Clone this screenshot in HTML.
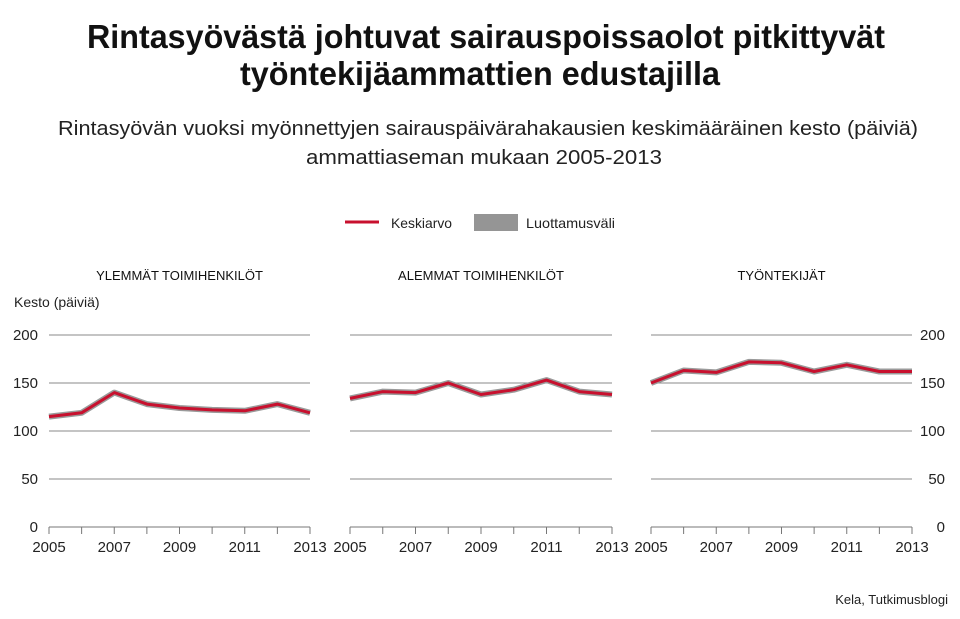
<!DOCTYPE html>
<html><head><meta charset="utf-8"><style>
html,body{margin:0;padding:0;background:#fff}
svg{display:block;font-family:"Liberation Sans",sans-serif}
</style></head><body>
<svg id="chart" width="960" height="619" viewBox="0 0 960 619" xmlns="http://www.w3.org/2000/svg">
<text x="486" y="48" text-anchor="middle" font-size="33" font-weight="bold" fill="#111" textLength="798" lengthAdjust="spacingAndGlyphs">Rintasyövästä johtuvat sairauspoissaolot pitkittyvät</text>
<text x="480" y="85" text-anchor="middle" font-size="33" font-weight="bold" fill="#111" textLength="480" lengthAdjust="spacingAndGlyphs">työntekijäammattien edustajilla</text>
<text x="488" y="135" text-anchor="middle" font-size="20" fill="#222" textLength="860" lengthAdjust="spacingAndGlyphs">Rintasyövän vuoksi myönnettyjen sairauspäivärahakausien keskimääräinen kesto (päiviä)</text>
<text x="484" y="164" text-anchor="middle" font-size="20" fill="#222" textLength="356" lengthAdjust="spacingAndGlyphs">ammattiaseman mukaan 2005-2013</text>
<g>
<line x1="345" y1="222" x2="379" y2="222" stroke="#c8102e" stroke-width="3"/>
<text x="391" y="228" font-size="14" fill="#222" textLength="61" lengthAdjust="spacingAndGlyphs">Keskiarvo</text>
<rect x="474" y="214" width="44" height="17" fill="#959595"/>
<text x="526" y="228" font-size="14" fill="#222" textLength="89" lengthAdjust="spacingAndGlyphs">Luottamusväli</text>
</g>
<text x="14" y="307" font-size="14" fill="#222">Kesto (päiviä)</text>
<text x="948" y="604" text-anchor="end" font-size="13" fill="#222">Kela, Tutkimusblogi</text>
<g id="panels"></g>
</svg>
<script>
const years = [2005,2006,2007,2008,2009,2010,2011,2012,2013];
const yTicks = [0,50,100,150,200];
const xTickLabels = [2005,2007,2009,2011,2013];
const panelTitles = ["YLEMMÄT TOIMIHENKILÖT","ALEMMAT TOIMIHENKILÖT","TYÖNTEKIJÄT"];
const upperWhiteCollar = [115,119,140,128,124,122,121,128,119];
const lowerWhiteCollar = [134,141,140,150,138,143,153,141,138];
const manualWorkers = [150,163,161,172,171,162,169,162,162];
const seriesList = [upperWhiteCollar, lowerWhiteCollar, manualWorkers];
const NS = "http://www.w3.org/2000/svg";
const g = document.getElementById("panels");
const panelX = [[49,310],[350,612],[651,912]];
const y0 = 527, y1 = 335;
function yScale(v){ return y0 - (v/200)*(y0-y1); }
function mk(tag, attrs){ const e=document.createElementNS(NS,tag); for(const k in attrs) e.setAttribute(k,attrs[k]); g.appendChild(e); return e; }
seriesList.forEach((series, p) => {
  const [xa, xb] = panelX[p];
  const xScale = yr => xa + (yr-years[0])/(years[years.length-1]-years[0])*(xb-xa);
  const t = mk("text",{x:(xa+xb)/2, y:280, "text-anchor":"middle","font-size":"13",fill:"#111"});
  t.textContent = panelTitles[p];
  
  
  yTicks.forEach(v => {
    if (v>0) {
      const l = mk("line",{x1:xa,x2:xb,y1:yScale(v),y2:yScale(v),stroke:"#8a8a8a","stroke-width":"1"});
      
      
    }
    if (p===0 || p===2) {
      const lt = mk("text",{x: p===0 ? 38 : 945, y: yScale(v)+5, "text-anchor":"end","font-size":"15",fill:"#222"});
      lt.textContent = v;
      
      
    }
  });
  const base = mk("line",{x1:xa,x2:xb,y1:y0,y2:y0,stroke:"#777","stroke-width":"1"});
  
  
  years.forEach(yr => {
    const tk = mk("line",{x1:xScale(yr),x2:xScale(yr),y1:y0,y2:y0+7,stroke:"#777","stroke-width":"1"});
    
    
  });
  xTickLabels.forEach(yr => {
    const xt = mk("text",{x:xScale(yr), y:552, "text-anchor":"middle","font-size":"15",fill:"#222"});
    xt.textContent = yr;
    
    
  });
  const pts = series.map((v,i)=> xScale(years[i]).toFixed(1)+","+yScale(v).toFixed(1)).join(" ");
  const band = mk("polyline",{points:pts,fill:"none",stroke:"#9a9a9a","stroke-width":"6","stroke-linejoin":"round"});
  
  
  const line = mk("polyline",{points:pts,fill:"none",stroke:"#c8102e","stroke-width":"3","stroke-linejoin":"round"});
  
  
});
</script>
</body></html>
